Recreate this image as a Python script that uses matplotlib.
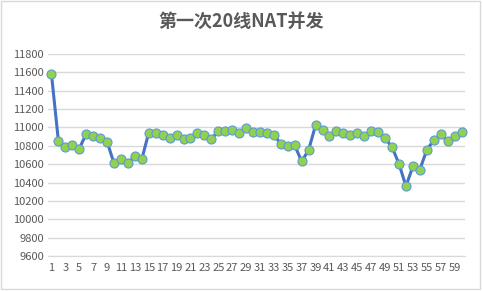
import matplotlib
matplotlib.use("Agg")
import matplotlib.pyplot as plt
from matplotlib.patches import Rectangle

title = "第一次20线NAT并发"
x_vals = list(range(1, 61))
values = [11580, 10850, 10790, 10810, 10770, 10930, 10910, 10880, 10845, 10610,
          10660, 10610, 10690, 10655, 10945, 10935, 10915, 10885, 10915, 10875,
          10885, 10945, 10915, 10875, 10960, 10960, 10970, 10945, 10995, 10955,
          10955, 10945, 10915, 10825, 10795, 10805, 10630, 10755, 11025, 10975,
          10905, 10965, 10935, 10915, 10935, 10905, 10965, 10950, 10885, 10785,
          10605, 10360, 10575, 10540, 10755, 10860, 10925, 10850, 10905, 10950]
y_ticks = list(range(9600, 11801, 200))
x_tick_labels = [str(i) for i in range(1, 60, 2)]

plt.rcParams['font.family'] = ['Noto Sans CJK SC', 'DejaVu Sans']

W, H = 483, 291
fig = plt.figure(figsize=(W / 100, H / 100), dpi=100)
ax = fig.add_axes([48 / W, (H - 256) / H, (465 - 48) / W, (256 - 54) / H])

ax.plot(x_vals, values, color='#4472C4', lw=2.2, marker='o', markersize=6.5,
        markerfacecolor='#92D050', markeredgecolor='#5B9BD5', markeredgewidth=0.8,
        zorder=3, clip_on=False)

ax.set_xlim(0.5, 60.5)
ax.set_ylim(9600, 11800)
ax.set_yticks(y_ticks)
ax.set_yticklabels([str(v) for v in y_ticks], fontsize=8, color='#595959')
ax.set_xticks(list(range(1, 60, 2)))
ax.set_xticklabels(x_tick_labels, fontsize=8, color='#595959')
ax.tick_params(axis='both', length=0, pad=3)
ax.tick_params(axis='x', pad=5)
ax.grid(axis='y', color='#D9D9D9', lw=1)
for s in ax.spines.values():
    s.set_visible(False)
ax.spines['bottom'].set_visible(True)
ax.spines['bottom'].set_color('#D9D9D9')

fig.text(0.5, 1 - 21 / H, title, ha='center', va='center', fontsize=13,
         fontweight='bold', color='#595959')

fig.patches.append(Rectangle((0.5 / W, 1 - 289 / H), 479.5 / W, 288.5 / H,
                             transform=fig.transFigure, fill=False,
                             edgecolor='#D9D9D9', lw=1))

fig.savefig('out.png', dpi=100, facecolor='white')
